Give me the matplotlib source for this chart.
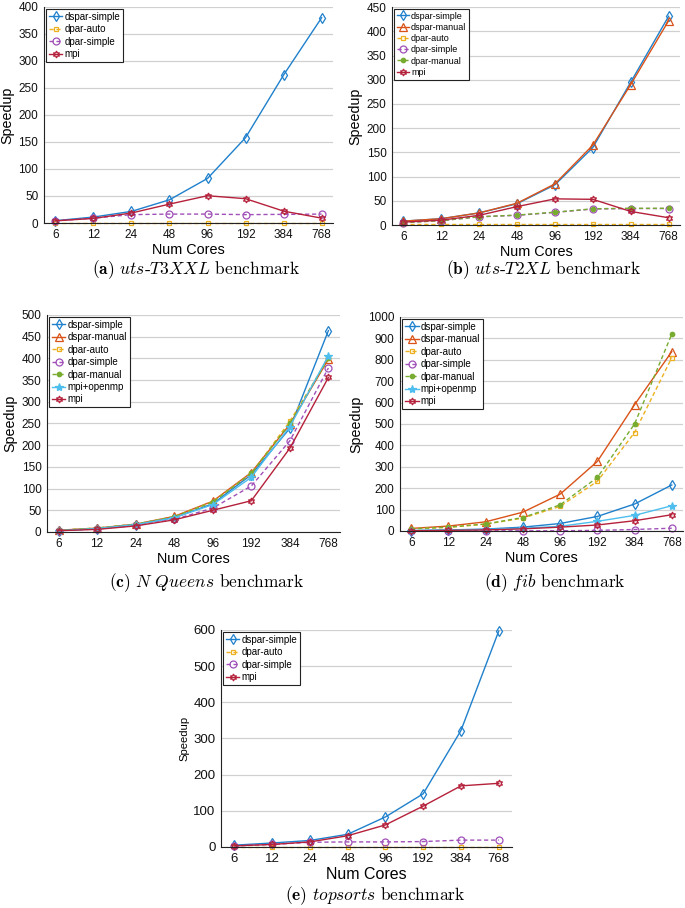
import matplotlib
matplotlib.use('Agg')
import matplotlib.pyplot as plt

plt.rcParams['mathtext.fontset'] = 'cm'
plt.rcParams['font.family'] = ['Liberation Sans', 'DejaVu Sans']

cores = ['6', '12', '24', '48', '96', '192', '384', '768']

# (a) uts-T3XXL
a_dspar_simple = [4.3, 11, 21.5, 43, 82.5, 158, 274, 380]
a_dpar_auto = [0.8, 0.8, 0.8, 0.8, 0.8, 0.8, 0.8, 0.8]
a_dpar_simple = [4, 9, 15.5, 16.5, 16.5, 15.5, 16, 16.5]
a_mpi = [4, 8.5, 18.5, 35, 50.5, 45, 22, 9]

# (b) uts-T2XL
b_dspar_simple = [8, 13, 25, 44, 83, 160, 295, 431]
b_dspar_manual = [8, 13, 25, 45, 85, 165, 290, 422]
b_dpar_auto = [2, 2, 2, 2, 2, 2, 2, 2]
b_dpar_simple = [5, 9, 17, 20, 26, 33, 34, 34]
b_dpar_manual = [5, 9, 17, 20.5, 26.5, 33.5, 34.5, 34.5]
b_mpi = [6, 10, 20, 38, 54, 53, 28, 15]

# (c) N Queens
c_dspar_simple = [3, 8, 17, 33, 65, 132, 239, 464]
c_dspar_manual = [4, 9, 18, 36, 71, 137, 248, 398]
c_dpar_auto = [4, 9, 18, 35, 70, 135, 255, 400]
c_dpar_simple = [3, 7, 15, 29, 55, 106, 210, 378]
c_dpar_manual = [4, 9, 18, 35, 69, 135, 250, 400]
c_mpi_openmp = [3, 8, 17, 33, 63, 126, 243, 406]
c_mpi = [3, 6, 14, 28, 50, 72, 193, 356]

# (d) fib
d_dspar_simple = [2, 5, 9, 18, 35, 68, 126, 215]
d_dspar_manual = [12, 23, 43, 88, 172, 325, 590, 838]
d_dpar_auto = [10, 17, 32, 60, 115, 232, 460, 810]
d_dpar_simple = [1, 1, 1, 1, 1, 3, 7, 13]
d_dpar_manual = [10, 18, 33, 63, 122, 250, 500, 920]
d_mpi_openmp = [2, 4, 7, 13, 22, 45, 73, 118]
d_mpi = [1, 3, 5, 10, 18, 28, 48, 76]

# (e) topsorts
e_dspar_simple = [5, 11, 18, 35, 83, 147, 322, 597]
e_dpar_auto = [1, 1, 1, 1, 1, 1, 1, 1]
e_dpar_simple = [3, 7, 13, 14, 14, 15, 19, 19]
e_mpi = [3, 7, 14, 31, 61, 113, 169, 176]

STYLES = {
    'dspar-simple': dict(color='#1f80cc', marker='d', ls='-', mfc='none'),
    'dspar-manual': dict(color='#D95319', marker='^', ls='-', mfc='none'),
    'dpar-auto': dict(color='#EDB120', marker='s', ls='--', mfc='none'),
    'dpar-simple': dict(color='#A050B8', marker='o', ls='--', mfc='none'),
    'dpar-manual': dict(color='#77AC30', marker='o', ls='--', mfc='#77AC30'),
    'mpi+openmp': dict(color='#4DBEEE', marker='*', ls='-', mfc='#4DBEEE'),
    'mpi': dict(color='#B5203A', marker=(6, 1, 0), ls='-', mfc='none'),
}
MSIZE = {'dspar-simple': 5, 'dspar-manual': 5.5, 'dpar-auto': 3.5,
         'dpar-simple': 5, 'dpar-manual': 3.2, 'mpi+openmp': 6, 'mpi': 5}

panels = [
    dict(rect=[0.0642, 0.7544, 0.422, 0.238], ymax=400, ystep=50, xpad=0.3,
         series=[('dspar-simple', a_dspar_simple), ('dpar-auto', a_dpar_auto),
                 ('dpar-simple', a_dpar_simple), ('mpi', a_mpi)],
         caption=r'$\mathbf{(a)}$ $uts$-$T3XXL$ benchmark', cap=(0.286, 0.703),
         tick=8.5, xlab=10.4, ylab=10.3, leg=7),
    dict(rect=[0.5723, 0.7522, 0.4204, 0.240], ymax=450, ystep=50, xpad=0.3,
         series=[('dspar-simple', b_dspar_simple), ('dspar-manual', b_dspar_manual),
                 ('dpar-auto', b_dpar_auto), ('dpar-simple', b_dpar_simple),
                 ('dpar-manual', b_dpar_manual), ('mpi', b_mpi)],
         caption=r'$\mathbf{(b)}$ $uts$-$T2XL$ benchmark', cap=(0.794, 0.703),
         tick=8.5, xlab=10.4, ylab=10.3, leg=6.5),
    dict(rect=[0.0686, 0.4141, 0.4277, 0.239], ymax=500, ystep=50, xpad=0.3,
         series=[('dspar-simple', c_dspar_simple), ('dspar-manual', c_dspar_manual),
                 ('dpar-auto', c_dpar_auto), ('dpar-simple', c_dpar_simple),
                 ('dpar-manual', c_dpar_manual), ('mpi+openmp', c_mpi_openmp),
                 ('mpi', c_mpi)],
         caption=r'$\mathbf{(c)}$ $N\ Queens$ benchmark', cap=(0.301, 0.358),
         tick=8.5, xlab=10.4, ylab=10.3, leg=7),
    dict(rect=[0.584, 0.4152, 0.413, 0.2357], ymax=1000, ystep=100, xpad=0.3,
         series=[('dspar-simple', d_dspar_simple), ('dspar-manual', d_dspar_manual),
                 ('dpar-auto', d_dpar_auto), ('dpar-simple', d_dpar_simple),
                 ('dpar-manual', d_dpar_manual), ('mpi+openmp', d_mpi_openmp),
                 ('mpi', d_mpi)],
         caption=r'$\mathbf{(d)}$ $fib$ benchmark', cap=(0.810, 0.358),
         tick=8.5, xlab=10.4, ylab=10.3, leg=7),
    dict(rect=[0.3226, 0.0672, 0.4248, 0.239], ymax=600, ystep=100, xpad=0.35,
         series=[('dspar-simple', e_dspar_simple), ('dpar-auto', e_dpar_auto),
                 ('dpar-simple', e_dpar_simple), ('mpi', e_mpi)],
         caption=r'$\mathbf{(e)}$ $topsorts$ benchmark', cap=(0.547, 0.0132),
         tick=9.5, xlab=11.5, ylab=8.1, leg=7),
]

fig = plt.figure(figsize=(6.85, 9.08), dpi=100)

for p in panels:
    ax = fig.add_axes(p['rect'])
    for name, vals in p['series']:
        st = STYLES[name]
        ax.plot(cores, vals, color=st['color'], marker=st['marker'], ls=st['ls'],
                mfc=st['mfc'], mec=st['color'], ms=MSIZE[name], lw=1.0,
                mew=0.9, label=name, clip_on=False,
                dashes=(3, 2) if st['ls'] == '--' else (None, None))
    ax.set_xlim(-p['xpad'], 7 + p['xpad'])
    ax.set_ylim(0, p['ymax'])
    ax.set_yticks(range(0, p['ymax'] + 1, p['ystep']))
    ax.yaxis.grid(True, color='#d0d0d0', lw=0.9)
    ax.set_axisbelow(True)
    for s in ('top', 'right'):
        ax.spines[s].set_visible(False)
    for s in ('left', 'bottom'):
        ax.spines[s].set_color('#222222')
        ax.spines[s].set_linewidth(0.8)
    ax.tick_params(length=0, labelsize=p['tick'], pad=4, colors='#111111')
    ax.set_xlabel('Num Cores', fontsize=p['xlab'], labelpad=2)
    ax.set_ylabel('Speedup', fontsize=p['ylab'], labelpad=3)
    leg = ax.legend(loc='upper left', fontsize=p['leg'], frameon=True, fancybox=False,
                    edgecolor='#222222', framealpha=1, handlelength=1.4,
                    handletextpad=0.2, borderpad=0.3, labelspacing=0.25,
                    borderaxespad=0.2)
    leg.get_frame().set_linewidth(0.8)
    fig.text(p['cap'][0], p['cap'][1], p['caption'], ha='center', va='center',
             fontsize=12.5, family='cmr10')

fig.savefig('out.png', dpi=100)
